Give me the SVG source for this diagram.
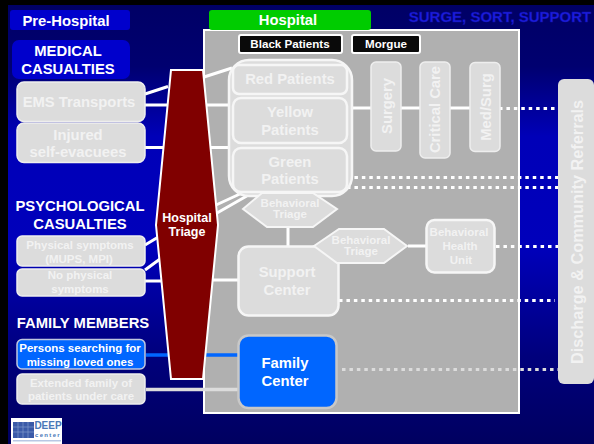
<svg xmlns="http://www.w3.org/2000/svg" width="594" height="444" viewBox="0 0 594 444">
<defs>
<linearGradient id="bg" x1="0" y1="0" x2="0" y2="1">
<stop offset="0" stop-color="#000066"/><stop offset="0.14" stop-color="#000070"/><stop offset="0.3" stop-color="#0000b8"/><stop offset="0.55" stop-color="#0000bb"/><stop offset="0.8" stop-color="#00007c"/><stop offset="1" stop-color="#000060"/>
</linearGradient>
</defs>
<style>
text{font-family:"Liberation Sans",Arial,sans-serif;font-weight:700;text-anchor:middle}
.box{fill:#dcdcdc;stroke:#eeeeee;stroke-width:1.5}
.inner{fill:#dcdcdc;stroke:#f6f6f6;stroke-width:2.5}
.lt{fill:#f2f2f2}
.w{fill:#fff}
.b{font-size:14.8px}
.s{font-size:11.5px}
.line{stroke:#fff;stroke-width:3;fill:none}
.dot{stroke:#fff;stroke-width:3;stroke-dasharray:3.5 3.93;fill:none}
.gdot{stroke:#dcdcdc;stroke-width:3;stroke-dasharray:3.5 3.93;fill:none}
</style>
<rect width="594" height="444" fill="#000"/>
<rect x="8" y="5" width="586" height="439" fill="url(#bg)"/>
<g id="hospital-area"><rect x="204" y="30" width="315" height="383" fill="#b0b0b0" stroke="#fff" stroke-width="2"/></g>
<g id="connectors">
<path class="line" d="M145 94L168 86.500M145 105H168M145 147.500H165M145 245L160 236M145 270L160 259M145 281H162"/>
<path class="line" d="M204 77L232 68M205 105H232M208 147.500H232M216 205L242 193M217 213L252 193M212 280H238M288 225V248M408 246H427M346 108H472"/>
<path d="M146 355H168M206 355H238" stroke="#0066ff" stroke-width="3.500" fill="none"/>
<path d="M146 389.500H238" stroke="#dcdcdc" stroke-width="3.500" fill="none"/>
<path class="dot" d="M499 108.500H555M347 177.500H558M347 187.500H558M496 246.500H558M339 300.500H555"/>
<path class="gdot" d="M342 369.500H558"/>
</g>
<g id="pre-hospital"><rect x="10" y="10" width="120" height="20" rx="3" fill="#0000cc"/><text x="66" y="26" class="b w">Pre-Hospital</text></g>
<g id="hospital-label"><rect x="209" y="10" width="162" height="20" rx="3" fill="#00cc00"/><text x="288" y="25" class="b w">Hospital</text></g>
<g id="title"><text x="500" y="22" font-size="15" fill="#1c1ce0" stroke="#1010a0" stroke-width=".4">SURGE, SORT, SUPPORT</text></g>
<g id="medical"><rect x="12" y="40" width="118" height="39" rx="7" fill="#0000cc"/><text x="68" y="56" class="b w">MEDICAL</text><text x="68" y="74" class="b w">CASUALTIES</text></g>
<g id="ems"><rect class="box" x="17" y="82" width="128" height="39.500" rx="7"/><text x="79" y="107" class="b lt">EMS Transports</text></g>
<g id="injured"><rect class="box" x="17" y="123" width="128" height="39.500" rx="7"/><text x="78" y="140" class="b lt">Injured</text><text x="78" y="157" class="b lt">self-evacuees</text></g>
<g id="psych"><text x="80" y="211" class="b w">PSYCHOLOGICAL</text><text x="80" y="229" class="b w">CASUALTIES</text></g>
<g id="physical"><rect class="box" x="17" y="236" width="128" height="30" rx="5"/><text x="80" y="249" class="s lt">Physical symptoms</text><text x="79" y="263" class="s lt">(MUPS, MPI)</text></g>
<g id="nophysical"><rect class="box" x="17" y="269" width="128" height="27" rx="5"/><text x="80" y="279" class="s lt">No physical</text><text x="80" y="293" class="s lt">symptoms</text></g>
<g id="family-members"><text x="83" y="328" class="b w">FAMILY MEMBERS</text></g>
<g id="persons"><rect x="17" y="339.500" width="128" height="29.500" rx="5" fill="#0066ff" stroke="#c0c8e0" stroke-width="1.5"/><text x="80" y="352" class="s w">Persons searching for</text><text x="80" y="366" class="s w">missing loved ones</text></g>
<g id="extended"><rect class="box" x="17" y="374" width="128" height="30" rx="5"/><text x="81" y="387" class="s lt">Extended family of</text><text x="81" y="400" class="s lt">patients under care</text></g>
<g id="triage"><path d="M171 70H203L218 225L203 379H171L156 225Z" fill="#800000" stroke="#fff" stroke-width="2"/><text x="187" y="222" font-size="12.500" class="w">Hospital</text><text x="187" y="236" font-size="12.500" class="w">Triage</text></g>
<g id="black"><rect x="239" y="35" width="103" height="18" rx="2" fill="#0a0a0a" stroke="#fff" stroke-width="2"/><text x="290" y="48" font-size="11.600" class="w">Black Patients</text></g>
<g id="morgue"><rect x="352" y="35" width="68" height="18" rx="2" fill="#0a0a0a" stroke="#fff" stroke-width="2"/><text x="386" y="48" font-size="11.600" class="w">Morgue</text></g>
<g id="patients-group"><rect x="229" y="60" width="123" height="136" rx="20" fill="#dcdcdc" stroke="#f6f6f6" stroke-width="2.500"/></g>
<g id="red"><rect class="inner" x="233" y="65" width="114" height="29" rx="6"/><text x="290" y="84" class="b lt">Red Patients</text></g>
<g id="yellow"><rect class="inner" x="233" y="98" width="114" height="45" rx="8"/><text x="290" y="117" class="b lt">Yellow</text><text x="290" y="135" class="b lt">Patients</text></g>
<g id="green"><rect class="inner" x="233" y="148" width="114" height="44" rx="8"/><text x="290" y="167" class="b lt">Green</text><text x="290" y="184" class="b lt">Patients</text></g>
<g id="surgery"><rect class="box" x="371" y="62" width="30" height="89" rx="5"/><text transform="translate(391.500 106) rotate(-90)" class="b lt">Surgery</text></g>
<g id="critical"><rect class="box" x="420" y="62" width="30" height="96" rx="5"/><text transform="translate(440 109.500) rotate(-90)" class="b lt">Critical Care</text></g>
<g id="medsurg"><rect class="box" x="470" y="62.500" width="30" height="89" rx="5"/><text transform="translate(490.500 107) rotate(-90)" class="b lt">Med/Surg</text></g>
<g id="beh-triage-1"><path d="M243 209L262 193H313L337 209L313 227H267Z" fill="#dcdcdc" stroke="#f6f6f6" stroke-width="2"/><text x="290" y="207" class="s lt">Behavioral</text><text x="290" y="218" class="s lt">Triage</text></g>
<g id="support"><rect class="inner" x="238.500" y="246.500" width="100" height="69" rx="10"/><text x="287" y="277" class="b lt">Support</text><text x="287" y="295" class="b lt">Center</text></g>
<g id="beh-triage-2"><path d="M314 246L339 229H384L407 246L384 263H337Z" fill="#dcdcdc" stroke="#f6f6f6" stroke-width="2"/><text x="361" y="244" class="s lt">Behavioral</text><text x="361" y="255" class="s lt">Triage</text></g>
<g id="bhu"><rect class="inner" x="426.500" y="220" width="68" height="52.500" rx="8"/><text x="459" y="236" class="s lt">Behavioral</text><text x="460" y="250" class="s lt">Health</text><text x="461" y="264" class="s lt">Unit</text></g>
<g id="family-center"><rect x="238.500" y="335.500" width="98" height="72.500" rx="10" fill="#0066ff" stroke="#c8c8c8" stroke-width="2.500"/><text x="285" y="368" class="b w">Family</text><text x="285" y="386" class="b w">Center</text></g>
<g id="discharge"><rect x="558" y="79" width="36" height="305" rx="6" fill="#dcdcdc"/><text transform="translate(583 232) rotate(-90)" font-size="16.300" class="lt">Discharge &amp; Community Referrals</text></g>
<g id="logo"><rect x="11" y="418" width="51" height="26" fill="#fff"/><rect x="13" y="422" width="21" height="16" fill="#3a5aa8"/><path d="M13 427H34M13 432H34M18 422V438M23 422V438M28 422V438" stroke="#7f98cc" stroke-width=".7"/><text x="48" y="429" font-size="10" fill="#4a78b8">DEEP</text><text x="48" y="437" font-size="6" fill="#4a78b8" letter-spacing="1.300">center</text><rect x="13" y="440" width="48" height="1.500" fill="#b8c8e4"/></g>
</svg>
